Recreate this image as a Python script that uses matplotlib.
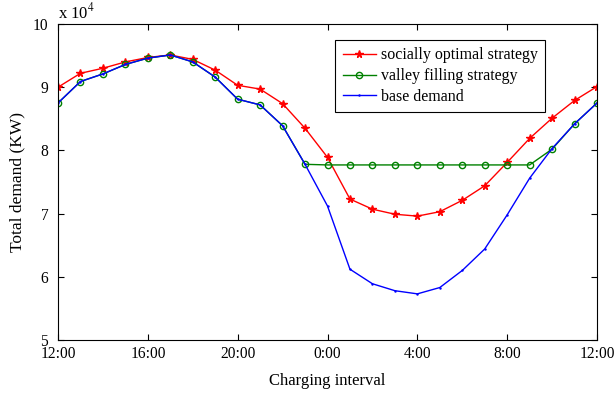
import numpy as np
import matplotlib
matplotlib.use("Agg")
import matplotlib.pyplot as plt

plt.rcParams["font.family"] = ["Liberation Serif", "DejaVu Serif"]
plt.rcParams["mathtext.fontset"] = "stix"

# hourly charging intervals, 12:00 -> 12:00 next day
hours = list(range(25))
tick_hours = [0, 4, 8, 12, 16, 20, 24]
tick_labels = ["12:00", "16:00", "20:00", "0:00", "4:00", "8:00", "12:00"]

# demand in units of 1e4 KW
socially_optimal = [9.00, 9.22, 9.30, 9.40, 9.47, 9.51, 9.44, 9.27, 9.03, 8.97, 8.74, 8.35,
                    7.89, 7.23, 7.07, 6.99, 6.96, 7.03, 7.21, 7.44, 7.81, 8.19, 8.51, 8.79, 9.01]
valley_filling = [8.75, 9.09, 9.21, 9.36, 9.46, 9.51, 9.40, 9.16, 8.81, 8.72, 8.39, 7.78,
                  7.77, 7.77, 7.77, 7.77, 7.77, 7.77, 7.77, 7.77, 7.77, 7.77, 8.02, 8.42, 8.75]
base_demand = [8.75, 9.09, 9.21, 9.36, 9.46, 9.51, 9.40, 9.16, 8.81, 8.72, 8.39, 7.78,
               7.12, 6.12, 5.89, 5.78, 5.73, 5.83, 6.10, 6.44, 6.98, 7.56, 8.03, 8.42, 8.75]

fig = plt.figure(figsize=(6.14, 3.95), dpi=100)
ax = fig.add_axes([58 / 614, 1 - 340 / 395, 539 / 614, 316 / 395])

ax.plot(hours, socially_optimal, color="red", marker="*", markersize=5.5,
        linewidth=1.0, label="socially optimal strategy")
ax.plot(hours, valley_filling, color="#008000", marker="o", markersize=4.5,
        markerfacecolor="none", linewidth=1.0, label="valley filling strategy")
ax.plot(hours, base_demand, color="blue", marker=".", markersize=1.5,
        linewidth=1.0, label="base demand")

ax.set_xlim(0, 24)
ax.set_ylim(5, 10)
ax.set_xticks(tick_hours)
ax.set_xticklabels(tick_labels)
ax.set_yticks([5, 6, 7, 8, 9, 10])
ax.tick_params(direction="in", top=True, right=True, labelsize=11.2, length=4, width=0.8)
ax.tick_params(axis="x", pad=4)
ax.tick_params(axis="y", pad=7)
for s in ax.spines.values():
    s.set_linewidth(0.8)

ax.set_xlabel("Charging interval", fontsize=12, labelpad=8)
ax.set_ylabel("Total demand (KW)", fontsize=12.5, labelpad=5)
ax.text(0.0, 1.005, r"x 10$^4$", transform=ax.transAxes, fontsize=12,
        ha="left", va="bottom")

leg = ax.legend(loc="upper right", bbox_to_anchor=(0.9035, 0.949), fontsize=11.5,
                fancybox=False, framealpha=1, edgecolor="black", borderpad=0.45,
                labelspacing=0.3, handlelength=2.1, handletextpad=0.3,
                borderaxespad=0)
leg.get_frame().set_linewidth(0.8)

fig.savefig("out.png", dpi=100)
